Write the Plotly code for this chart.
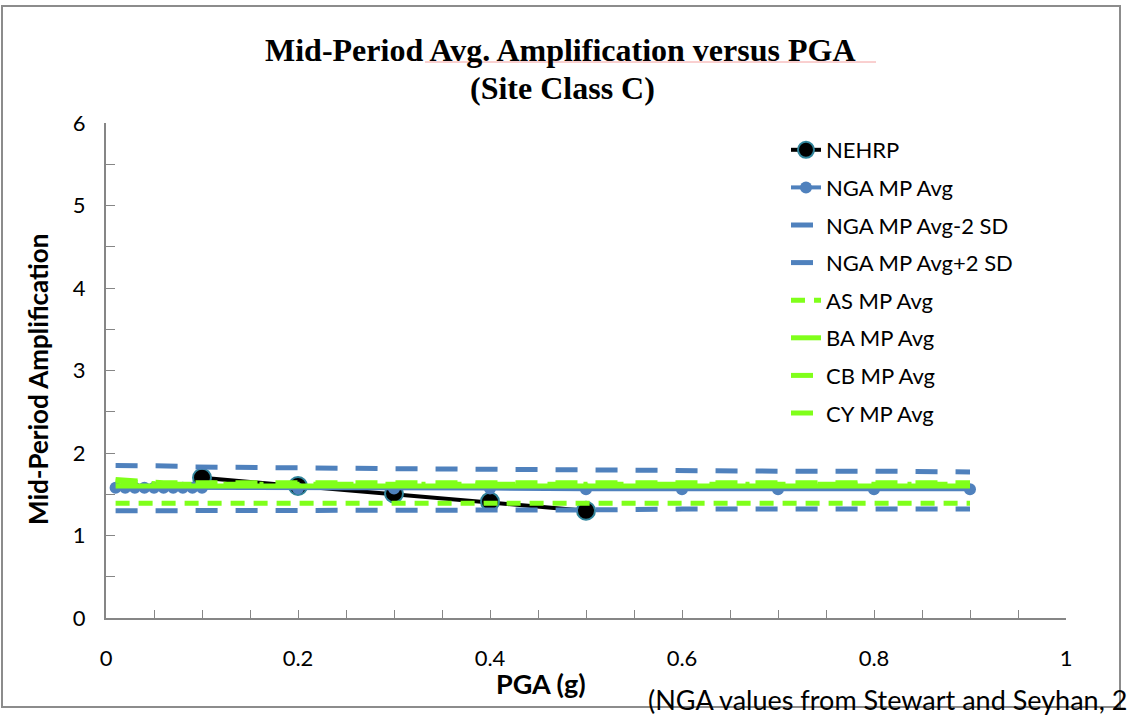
import plotly.graph_objects as go

# ---- data ----
pga = [0.01, 0.02, 0.03, 0.04, 0.05, 0.06, 0.07, 0.08, 0.09, 0.1,
       0.2, 0.3, 0.4, 0.5, 0.6, 0.7, 0.8, 0.9]
nehrp_x = [0.1, 0.2, 0.3, 0.4, 0.5]
nehrp_y = [1.70, 1.60, 1.51, 1.41, 1.30]
nga_avg = [1.58, 1.58, 1.58, 1.58, 1.58, 1.58, 1.58, 1.58, 1.58, 1.58,
           1.57, 1.57, 1.57, 1.56, 1.56, 1.56, 1.56, 1.56]
nga_m2sd = [1.30, 1.30, 1.30, 1.30, 1.30, 1.30, 1.30, 1.30, 1.30, 1.30,
            1.31, 1.31, 1.31, 1.31, 1.32, 1.32, 1.32, 1.32]
nga_p2sd = [1.85, 1.85, 1.85, 1.84, 1.84, 1.84, 1.84, 1.84, 1.83, 1.83,
            1.82, 1.81, 1.80, 1.79, 1.79, 1.78, 1.78, 1.77]
as_avg = [1.39, 1.39, 1.39, 1.39, 1.39, 1.39, 1.39, 1.39, 1.39, 1.39,
          1.39, 1.39, 1.39, 1.39, 1.39, 1.39, 1.39, 1.39]
ba_avg = [1.60, 1.60, 1.60, 1.60, 1.60, 1.60, 1.60, 1.60, 1.60, 1.60,
          1.60, 1.60, 1.60, 1.60, 1.60, 1.60, 1.60, 1.60]
cb_avg = [1.68, 1.67, 1.66, 1.65, 1.64, 1.64, 1.64, 1.64, 1.64, 1.64,
          1.64, 1.64, 1.64, 1.64, 1.64, 1.64, 1.64, 1.64]
cy_avg = [1.66, 1.65, 1.64, 1.63, 1.62, 1.62, 1.62, 1.62, 1.62, 1.62,
          1.62, 1.62, 1.62, 1.62, 1.62, 1.62, 1.62, 1.62]
x_ticks = [0, 0.2, 0.4, 0.6, 0.8, 1]
x_tick_labels = ["0", "0.2", "0.4", "0.6", "0.8", "1"]
y_ticks = [0, 1, 2, 3, 4, 5, 6]

BLUE = "#4F81BD"
GREEN = "#80FF1A"
FONT = "Lato"

fig = go.Figure()

fig.add_trace(go.Scatter(x=nehrp_x, y=nehrp_y, name="NEHRP", mode="lines+markers",
                         line=dict(color="black", width=4),
                         marker=dict(size=18, color="black", line=dict(color="#31859C", width=2)),
                         legendgroup="a"))
fig.add_trace(go.Scatter(x=pga, y=nga_avg, name="NGA MP Avg", mode="lines+markers",
                         line=dict(color=BLUE, width=4), marker=dict(size=12, color=BLUE),
                         legendgroup="b"))
fig.add_trace(go.Scatter(x=pga, y=nga_m2sd, name="NGA MP Avg-2 SD", mode="lines",
                         line=dict(color=BLUE, width=5, dash="22px,18px"), legendgroup="c"))
fig.add_trace(go.Scatter(x=pga, y=nga_p2sd, name="NGA MP Avg+2 SD", mode="lines",
                         line=dict(color=BLUE, width=5, dash="22px,18px"), legendgroup="d"))
fig.add_trace(go.Scatter(x=pga, y=as_avg, name="AS MP Avg", mode="lines",
                         line=dict(color=GREEN, width=5, dash="14px,9px"), legendgroup="e"))
fig.add_trace(go.Scatter(x=pga, y=ba_avg, name="BA MP Avg", mode="lines",
                         line=dict(color=GREEN, width=5), legendgroup="f"))
fig.add_trace(go.Scatter(x=pga, y=cb_avg, name="CB MP Avg", mode="lines",
                         line=dict(color=GREEN, width=5, dash="22px,18px"), legendgroup="g"))
fig.add_trace(go.Scatter(x=pga, y=cy_avg, name="CY MP Avg", mode="lines",
                         line=dict(color=GREEN, width=5, dash="22px,14px,4px,14px"), legendgroup="h"))

# plot area in pixels: x 106..1066, y 123..618
L, R, T, B = 106, 1066, 123, 618
def px(x):
    return (x - L) / (R - L)
def py(y):
    return (B - y) / (B - T)

fig.update_layout(
    width=1128, height=715,
    margin=dict(l=L, r=1128 - R, t=T, b=715 - B),
    paper_bgcolor="white", plot_bgcolor="white",
    showlegend=True,
    legend=dict(x=px(786), y=py(129), xanchor="left", yanchor="top",
                font=dict(family=FONT, size=22, color="black"),
                tracegroupgap=6, bgcolor="rgba(0,0,0,0)", traceorder="grouped"),
    xaxis=dict(range=[0, 1], tickvals=x_ticks, ticktext=x_tick_labels,
               ticks="inside", ticklen=8, tickcolor="#868686", tickwidth=1,
               minor=dict(dtick=0.05, ticks="inside", ticklen=8, tickcolor="#868686", tickwidth=1),
               showline=True, linecolor="#868686", linewidth=2, showgrid=False, zeroline=False,
               tickfont=dict(family=FONT, size=22, color="black"), ticklabelstandoff=20),
    yaxis=dict(range=[0, 6], tickvals=y_ticks,
               ticks="inside", ticklen=9, tickcolor="#868686", tickwidth=1,
               minor=dict(dtick=0.5, ticks="inside", ticklen=9, tickcolor="#868686", tickwidth=1),
               showline=True, linecolor="#868686", linewidth=2, showgrid=False, zeroline=False,
               tickfont=dict(family=FONT, size=22, color="black"), ticklabelstandoff=14),
)

title_font = dict(family="Liberation Serif", size=32, color="black")
fig.add_annotation(text="<b>Mid-Period Avg. Amplification versus PGA</b>",
                   xref="paper", yref="paper", x=px(560), y=py(50),
                   xanchor="center", yanchor="middle", showarrow=False, font=title_font)
fig.add_annotation(text="<b>(Site Class C)</b>",
                   xref="paper", yref="paper", x=px(562), y=py(88),
                   xanchor="center", yanchor="middle", showarrow=False, font=title_font)
fig.add_annotation(text="<b>Mid-Period Amplification</b>", textangle=-90,
                   xref="paper", yref="paper", x=px(38), y=py(380),
                   xanchor="center", yanchor="middle", showarrow=False,
                   font=dict(family=FONT, size=26, color="black"))
fig.add_annotation(text="<b>PGA (g)</b>", xref="paper", yref="paper",
                   x=px(541), y=py(683), xanchor="center", yanchor="middle", showarrow=False,
                   font=dict(family=FONT, size=27, color="black"))
fig.add_annotation(text="(NGA values from Stewart and Seyhan, 2", xref="paper", yref="paper",
                   x=px(646), y=py(699), xanchor="left", yanchor="middle", showarrow=False,
                   font=dict(family=FONT, size=27, color="black"))

# chart frame
fig.add_shape(type="rect", xref="paper", yref="paper",
              x0=px(2), x1=px(1120), y0=py(707), y1=py(6),
              line=dict(color="#8C8C8C", width=2), fillcolor="rgba(0,0,0,0)", layer="below")
# spell-check underline artifact under the title
fig.add_shape(type="line", xref="paper", yref="paper",
              x0=px(425), x1=px(876), y0=py(62), y1=py(62),
              line=dict(color="#F4A0A0", width=1))

fig.write_html("out.html", config={"displayModeBar": False},
               post_script="document.body.style.margin='0px';document.body.style.overflow='hidden';")
